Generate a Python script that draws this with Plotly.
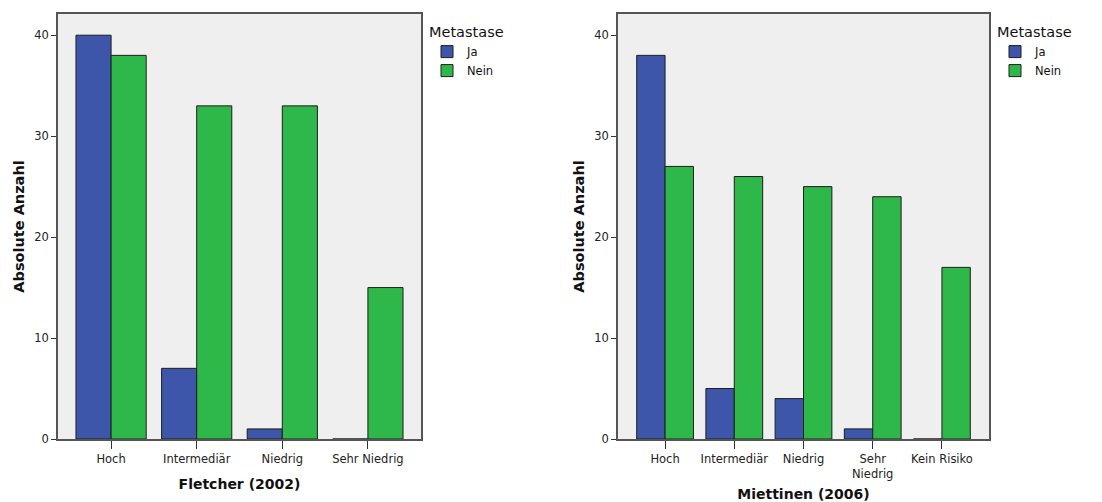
import plotly.graph_objects as go

# Risk categories per classification
fletcher_cats = ["Hoch", "Intermediär", "Niedrig", "Sehr Niedrig"]
fletcher_ja = [40, 7, 1, 0]
fletcher_nein = [38, 33, 33, 15]

miettinen_cats = ["Hoch", "Intermediär", "Niedrig", "Sehr<br>Niedrig", "Kein Risiko"]
miettinen_ja = [38, 5, 4, 1, 0]
miettinen_nein = [27, 26, 25, 24, 17]

y_ticks = [0, 10, 20, 30, 40]

BLUE = "#3d56aa"
GREEN = "#2fb84a"
EDGE = "#1e1e1e"
FONT = "DejaVu Sans"
BAR_W = 0.41

fig = go.Figure()


def add_pair(cats, ja, nein, xa, ya, legend):
    fig.add_trace(go.Bar(
        x=cats, y=ja, name="Ja", xaxis=xa, yaxis=ya, legend=legend,
        width=BAR_W, offset=-BAR_W,
        marker=dict(color=BLUE, line=dict(color=EDGE, width=1)),
    ))
    fig.add_trace(go.Bar(
        x=cats, y=nein, name="Nein", xaxis=xa, yaxis=ya, legend=legend,
        width=BAR_W, offset=0,
        marker=dict(color=GREEN, line=dict(color=EDGE, width=1)),
    ))


add_pair(fletcher_cats, fletcher_ja, fletcher_nein, "x", "y", "legend")
add_pair(miettinen_cats, miettinen_ja, miettinen_nein, "x2", "y2", "legend2")

axis_common = dict(
    showline=True, linecolor="#555555", linewidth=1.5, mirror=True,
    showgrid=False, zeroline=False, ticks="outside", tickcolor="#333333",
    tickfont=dict(family=FONT, size=11.5, color="#222222"),
)
x_title_font = dict(family=FONT, size=14, color="#111")
y_title_font = dict(family=FONT, size=14.5, color="#111")

legend_common = dict(
    y=0.99, xanchor="left", yanchor="top",
    title=dict(text="Metastase", font=dict(size=14.5, color="#111")),
    font=dict(size=11.5, color="#111"), bgcolor="rgba(0,0,0,0)",
    tracegroupgap=0, itemwidth=30,
)

fig.update_layout(
    width=1102, height=502,
    margin=dict(l=0, r=0, t=14, b=63),
    paper_bgcolor="white",
    plot_bgcolor="#efefef",
    barmode="group",
    showlegend=True,
    font=dict(family=FONT),
    xaxis=dict(domain=[58 / 1102, 421 / 1102], range=[-0.62, 3.62],
               title=dict(text="<b>Fletcher (2002)</b>", font=x_title_font),
               ticklen=8, automargin=False, **axis_common),
    yaxis=dict(domain=[0, 1], range=[0, 42.1], tickvals=y_ticks,
               title=dict(text="<b>Absolute Anzahl</b>", font=y_title_font, standoff=6),
               ticklen=5, automargin=True, **axis_common),
    xaxis2=dict(domain=[618 / 1102, 989 / 1102], range=[-0.68, 4.68], anchor="y2",
                title=dict(text="<b>Miettinen (2006)</b>", font=x_title_font),
                ticklen=8, automargin=False, **axis_common),
    yaxis2=dict(domain=[0, 1], range=[0, 42.1], tickvals=y_ticks, anchor="x2",
                title=dict(text="<b>Absolute Anzahl</b>", font=y_title_font, standoff=6),
                ticklen=5, automargin=True, **axis_common),
    legend=dict(x=427 / 1102, **legend_common),
    legend2=dict(x=995 / 1102, **legend_common),
)

fig.write_html("out.html")
